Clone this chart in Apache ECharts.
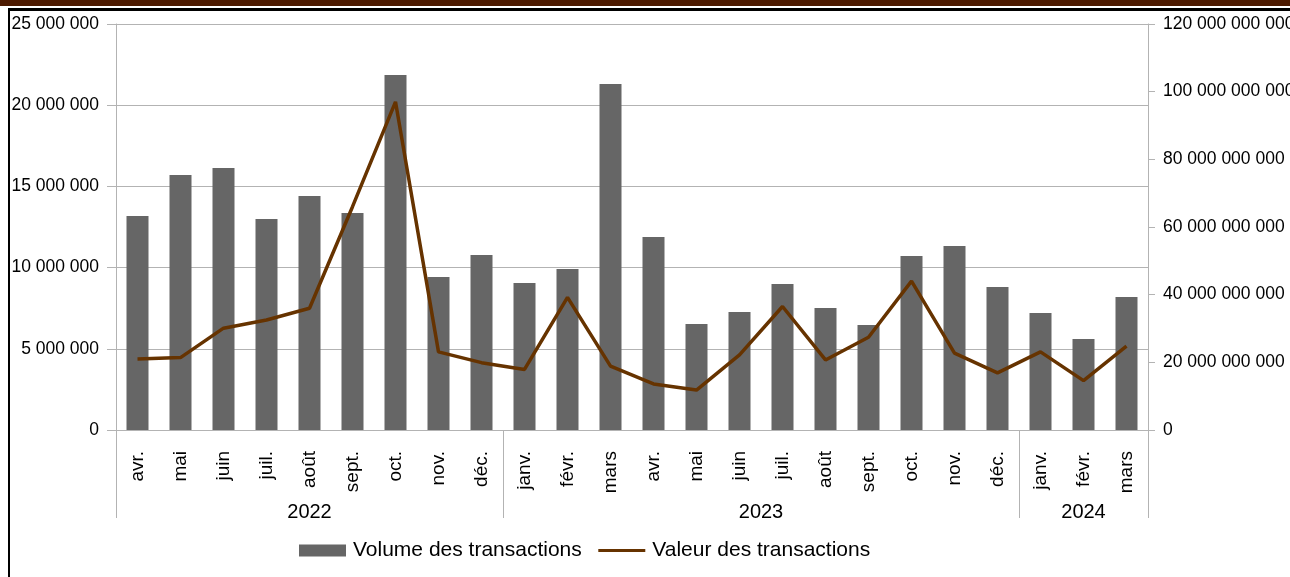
<!DOCTYPE html>
<html>
<head>
<meta charset="utf-8">
<script src="https://cdn.jsdelivr.net/npm/echarts@6/dist/echarts.min.js"></script>
<style>
  html, body { margin: 0; padding: 0; background: #fff; }
  #chart { width: 1290px; height: 577px; }
</style>
</head>
<body>
<div id="chart"></div>
<script>
const months = ["avr.", "mai", "juin", "juil.", "août", "sept.", "oct.", "nov.", "déc.",
  "janv.", "févr.", "mars", "avr.", "mai", "juin", "juil.", "août", "sept.", "oct.", "nov.", "déc.",
  "janv.", "févr.", "mars"];
const years = ["2022", "2023", "2024"];
const monthsPerYear = [9, 12, 3];

// Volume des transactions (left axis)
const volume = [13180000, 15700000, 16130000, 12990000, 14410000, 13360000, 21860000, 9420000, 10780000,
  9050000, 9910000, 21310000, 11880000, 6530000, 7270000, 8990000, 7510000, 6470000, 10710000, 11330000, 8810000,
  7200000, 5600000, 8190000];

// Valeur des transactions (right axis)
const valeur = [21.0e9, 21.4e9, 30.1e9, 32.5e9, 36.0e9, 66.0e9, 97.0e9, 23.1e9, 19.9e9,
  17.9e9, 39.2e9, 18.9e9, 13.6e9, 11.8e9, 22.2e9, 36.5e9, 20.7e9, 27.4e9, 44.0e9, 22.7e9, 16.9e9,
  23.1e9, 14.6e9, 24.8e9];

const FONT = "Liberation Sans";
const GREY = "#b3b3b3";

const fmt = (v) => String(v).replace(/\B(?=(\d{3})+(?!\d))/g, " ");

// year group boundaries and centers on a 0..24 scale
const yearBounds = [0];
monthsPerYear.forEach((n) => yearBounds.push(yearBounds[yearBounds.length - 1] + n));
const yearCenters = years.map((_, i) => (yearBounds[i] + yearBounds[i + 1]) / 2);

const chart = echarts.init(document.getElementById("chart"));

chart.setOption({
  animation: false,
  textStyle: { fontFamily: FONT },
  graphic: [
    { type: "rect", shape: { x: 0, y: 0, width: 1290, height: 6 }, style: { fill: "#4d1a00" } },
    { type: "rect", shape: { x: 8, y: 8, width: 1282, height: 3 }, style: { fill: "#000" } },
    { type: "rect", shape: { x: 8, y: 8, width: 2, height: 569 }, style: { fill: "#000" } },
  ],
  grid: {
    left: 116,
    right: 142,
    top: 24,
    bottom: 147,
    containLabel: false,
    outerBoundsMode: "none",
  },
  legend: {
    top: 535,
    left: 294,
    itemWidth: 47,
    itemHeight: 12,
    itemGap: 15,
    textStyle: { fontFamily: FONT, fontSize: 21, color: "#000", padding: [0, 0, 0, 2] },
    data: [
      { name: "Volume des transactions", icon: "rect" },
      { name: "Valeur des transactions", itemStyle: { opacity: 0 }, lineStyle: { width: 3 } },
    ],
  },
  xAxis: [
    {
      type: "category",
      data: months,
      axisLine: { lineStyle: { color: GREY } },
      axisTick: { interval: 0, length: 60, lineStyle: { color: GREY } },
      axisLabel: {
        interval: 0,
        rotate: 90,
        margin: 21,
        fontSize: 19,
        color: "#000",
        fontFamily: FONT,
      },
    },
    {
      type: "value",
      min: 0,
      max: months.length,
      position: "bottom",
      axisLine: { show: false },
      splitLine: { show: false },
      axisTick: { show: true, customValues: yearBounds, length: 88, lineStyle: { color: GREY } },
      axisLabel: {
        customValues: yearCenters,
        margin: 72,
        fontSize: 20,
        color: "#000",
        fontFamily: FONT,
        formatter: (v) => {
          const i = yearCenters.indexOf(v);
          return i >= 0 ? years[i] : "";
        },
      },
    },
  ],
  yAxis: [
    {
      type: "value",
      min: 0,
      max: 25000000,
      interval: 5000000,
      axisLine: { show: true, lineStyle: { color: GREY } },
      axisTick: { show: true, length: 9, lineStyle: { color: GREY } },
      splitLine: { lineStyle: { color: GREY } },
      axisLabel: { margin: 17, fontSize: 17.5, color: "#000", fontFamily: FONT, formatter: fmt },
    },
    {
      type: "value",
      min: 0,
      max: 120000000000,
      interval: 20000000000,
      position: "right",
      axisLine: { show: true, lineStyle: { color: GREY } },
      axisTick: { show: true, length: 7, lineStyle: { color: GREY } },
      splitLine: { show: false },
      axisLabel: { margin: 15, fontSize: 17.5, color: "#000", fontFamily: FONT, formatter: fmt },
    },
  ],
  series: [
    {
      name: "Volume des transactions",
      type: "bar",
      xAxisIndex: 0,
      yAxisIndex: 0,
      data: volume,
      barWidth: 22,
      itemStyle: { color: "#666666" },
    },
    {
      name: "Valeur des transactions",
      type: "line",
      xAxisIndex: 0,
      yAxisIndex: 1,
      data: valeur,
      symbol: "none",
      lineStyle: { color: "#663300", width: 3.5 },
      itemStyle: { color: "#663300" },
      z: 5,
    },
  ],
});
</script>
</body>
</html>
